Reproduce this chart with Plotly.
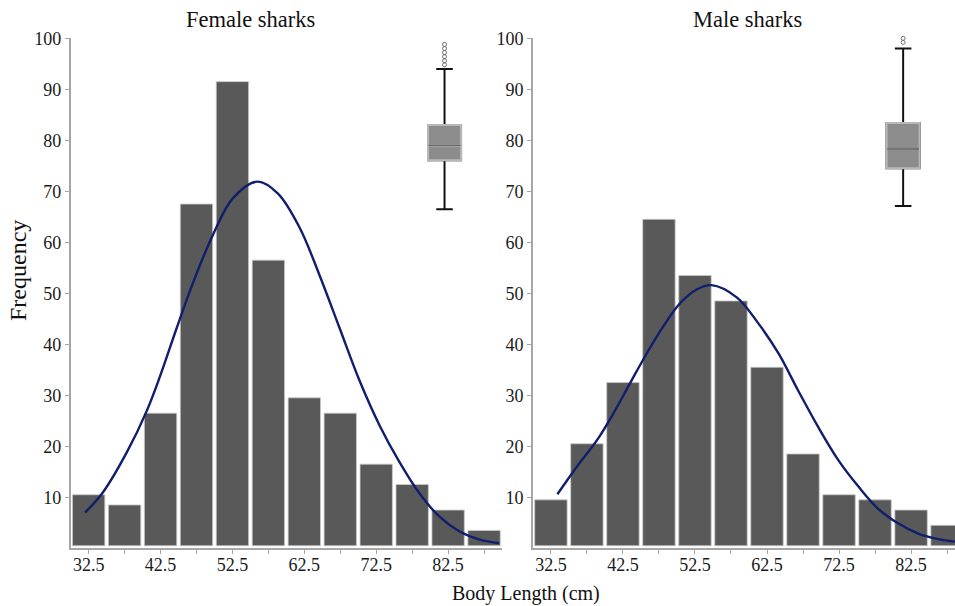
import plotly.graph_objects as go

# ---------------- data ----------------
bin_centers = [32.5, 37.5, 42.5, 47.5, 52.5, 57.5, 62.5, 67.5, 72.5, 77.5, 82.5, 87.5]
female_counts = [10, 8, 26, 67, 91, 56, 29, 26, 16, 12, 7, 3]
male_counts = [9, 20, 32, 64, 53, 48, 35, 18, 10, 9, 7, 4]

female_curve_x = [32.0, 34.5, 37.8, 40.6, 42.4, 44.7, 47.0, 49.8, 52.6, 56.0, 58.8, 61.8,
                  64.6, 67.4, 70.2, 73.0, 75.7, 78.5, 81.3, 84.1, 86.9, 89.6]
female_curve_y = [7.0, 11.0, 18.8, 27.0, 33.6, 43.0, 52.0, 61.5, 68.7, 71.9, 69.6, 63.0,
                  53.6, 43.2, 32.8, 24.0, 17.0, 10.8, 6.2, 3.3, 1.7, 1.0]

male_curve_x = [33.4, 36.1, 38.9, 41.2, 43.5, 45.8, 48.1, 50.4, 52.8, 54.8, 58.3, 61.3,
                64.1, 66.8, 69.6, 72.4, 75.2, 77.9, 80.7, 83.5, 86.3, 88.6]
male_curve_y = [10.6, 16.0, 21.2, 26.5, 32.4, 38.2, 43.5, 48.0, 50.8, 51.6, 49.2, 44.1,
                38.2, 31.0, 23.8, 17.3, 12.1, 7.8, 4.9, 2.9, 1.8, 1.3]

# box-plot summaries (drawn on the frequency scale, as in the original)
female_box_x = [82.0]
female_q1, female_median, female_q3 = [76.1], [79.0], [83.0]
female_lower, female_upper = [66.5], [94.0]
female_outliers = [94.8, 95.6, 96.4, 97.2, 98.0, 98.8]

male_box_x = [81.4]
male_q1, male_median, male_q3 = [74.5], [78.3], [83.4]
male_lower, male_upper = [67.1], [98.0]
male_outliers = [99.2, 100.0]

panel_titles = ["Female sharks", "Male sharks"]
x_tick_vals = [32.5, 37.5, 42.5, 47.5, 52.5, 57.5, 62.5, 67.5, 72.5, 77.5, 82.5, 87.5]
x_tick_text = ["32.5", "", "42.5", "", "52.5", "", "62.5", "", "72.5", "", "82.5", ""]
y_tick_vals = [10, 20, 30, 40, 50, 60, 70, 80, 90, 100]

# ---------------- styling ----------------
FONT = "Liberation Serif, Times New Roman, serif"
BAR_COLOR = "#595959"
CURVE_COLOR = "#0f1f6e"
AXIS_COLOR = "#a6a6a6"

fig = go.Figure()


def add_panel(counts, cx, cy, bx, q1, med, q3, lo, hi, outl, xa, ya):
    fig.add_trace(go.Bar(
        x=bin_centers, y=counts, base=0.5, width=4.5,
        marker=dict(color=BAR_COLOR, line=dict(color="#c8c8c8", width=0.8)),
        xaxis=xa, yaxis=ya, showlegend=False, hoverinfo="x+y"))
    fig.add_trace(go.Scatter(
        x=cx, y=cy, mode="lines", line=dict(color=CURVE_COLOR, width=2.4, shape="spline", smoothing=1.0),
        xaxis=xa, yaxis=ya, showlegend=False))
    # whiskers (black)
    fig.add_trace(go.Box(
        x=bx, q1=q1, median=med, q3=q3, lowerfence=lo, upperfence=hi,
        width=4.6, whiskerwidth=0.5, boxpoints=False, fillcolor="#8c8c8c",
        line=dict(color="#111111", width=2), xaxis=xa, yaxis=ya, showlegend=False))
    # box body with light outline
    fig.add_trace(go.Box(
        x=bx, q1=q1, median=med, q3=q3, lowerfence=q1, upperfence=q3,
        width=4.6, whiskerwidth=0, boxpoints=False, fillcolor="#8c8c8c",
        line=dict(color="#b8b8b8", width=2), xaxis=xa, yaxis=ya, showlegend=False))
    # median line
    fig.add_trace(go.Box(
        x=bx, q1=med, median=med, q3=med, lowerfence=med, upperfence=med,
        width=4.4, whiskerwidth=0, boxpoints=False, fillcolor="rgba(0,0,0,0)",
        line=dict(color="#6a6a6a", width=1), xaxis=xa, yaxis=ya, showlegend=False))
    fig.add_trace(go.Scatter(
        x=bx * len(outl), y=outl, mode="markers",
        marker=dict(symbol="circle-open", size=4, color="#707070", line=dict(width=1)),
        cliponaxis=False, xaxis=xa, yaxis=ya, showlegend=False))


add_panel(female_counts, female_curve_x, female_curve_y, female_box_x,
          female_q1, female_median, female_q3, female_lower, female_upper, female_outliers, "x", "y")
add_panel(male_counts, male_curve_x, male_curve_y, male_box_x,
          male_q1, male_median, male_q3, male_lower, male_upper, male_outliers, "x2", "y2")

xcommon = dict(showline=True, linecolor=AXIS_COLOR, linewidth=1.5, showgrid=False, zeroline=False,
               ticks="outside", ticklen=4, tickcolor=AXIS_COLOR, tickwidth=1,
               tickvals=x_tick_vals, ticktext=x_tick_text, automargin=False,
               ticklabelstandoff=-5,
               tickfont=dict(family=FONT, size=18, color="#1a1a1a"), fixedrange=True)
ycommon = dict(showline=True, linecolor=AXIS_COLOR, linewidth=1.5, showgrid=False, zeroline=False,
               ticks="outside", ticklen=4, tickcolor=AXIS_COLOR, tickwidth=1,
               tickvals=y_tick_vals, range=[0, 100], automargin=False,
               tickfont=dict(family=FONT, size=18, color="#1a1a1a"), fixedrange=True)

fig.update_layout(
    template="none",
    width=955, height=606, autosize=False,
    margin=dict(l=0, r=0, t=0, b=0, pad=0),
    paper_bgcolor="white", plot_bgcolor="white",
    showlegend=False,
    barmode="overlay", boxmode="overlay",
    xaxis=dict(xcommon, domain=[0.074, 0.5257], range=[30, 90], anchor="y"),
    yaxis=dict(ycommon, domain=[0.0952, 0.9368], anchor="x"),
    xaxis2=dict(xcommon, domain=[0.558, 1.0], range=[30, 88.6], anchor="y2"),
    yaxis2=dict(ycommon, domain=[0.0952, 0.9368], anchor="x2"),
    annotations=[
        dict(text=panel_titles[0], x=250 / 955, y=1 - 20 / 606, xref="paper", yref="paper",
             showarrow=False, font=dict(family=FONT, size=22.5, color="#111111"),
             xanchor="center", yanchor="middle"),
        dict(text=panel_titles[1], x=747 / 955, y=1 - 20 / 606, xref="paper", yref="paper",
             showarrow=False, font=dict(family=FONT, size=22.5, color="#111111"),
             xanchor="center", yanchor="middle"),
        dict(text="Body Length (cm)", x=526 / 955, y=1 - 593 / 606, xref="paper", yref="paper",
             showarrow=False, font=dict(family=FONT, size=20, color="#111111"),
             xanchor="center", yanchor="middle"),
        dict(text="Frequency", x=18 / 955, y=1 - 271 / 606, xref="paper", yref="paper",
             showarrow=False, textangle=-90, font=dict(family=FONT, size=24, color="#111111"),
             xanchor="center", yanchor="middle"),
    ],
)

fig.write_html(
    "out.html",
    config={"displayModeBar": False},
    post_script="document.body.style.margin='0';document.body.style.overflow='hidden';",
)
